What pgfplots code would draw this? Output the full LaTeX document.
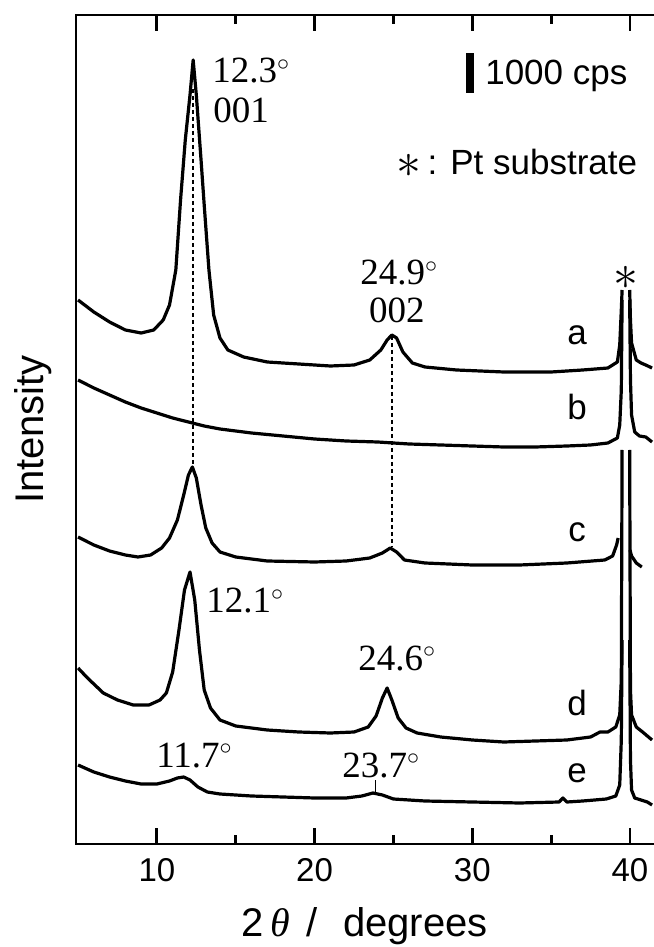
\documentclass[border=0pt]{standalone}
\usepackage{fontspec}
\setmainfont{Liberation Sans}
\newfontfamily\serif{Liberation Serif}
\usepackage{pgfplots}
\pgfplotsset{compat=1.18}
\pgfplotsset{curve/.style={black, solid, mark=none, line width=1.6pt, line join=round}}
\begin{document}
\begin{tikzpicture}
\path[use as bounding box] (-38pt,-51.5pt) rectangle (288.5pt,422pt);
\begin{axis}[
  at={(0pt,0pt)}, anchor=south west,
  scale only axis, width=290.39pt, height=414.5pt,
  xmin=4.87, xmax=41.7, ymin=0, ymax=829,
  axis line style={line width=1.4pt, black},
  xtick={10,20,30,40}, minor xtick={15,25,35},
  ytick=\empty,
  tick align=inside, major tick length=8pt, minor tick length=4.5pt,
  tick style={line width=1.4pt, black},
  /pgf/number format/assume math mode=true,
  xticklabel style={font=\fontsize{16.5}{18}\selectfont, inner sep=0pt, yshift=-7pt},
  xlabel={2\,{\serif\itshape θ}\hspace{8pt}/\hspace{13pt}degrees},
  xlabel style={at={(axis description cs:0.497,-0.111)}, anchor=base, font=\fontsize{20}{24}\selectfont},
  ylabel={Intensity},
  ylabel style={at={(axis description cs:-0.0568,0.5)}, anchor=base, font=\fontsize{20}{24}\selectfont},
  unbounded coords=jump, clip=false,
]
% curve a
\addplot[curve] coordinates {
(5.0,544)(6,532)(7,522)(8,514)(9,511)(9.8,514)(10.4,524)(10.8,539)(11.2,574)(11.5,644)(11.8,704)(12.1,749)(12.3,784)(12.5,749)(12.8,684)(13.0,639)(13.3,574)(13.6,529)(14.0,506)(14.5,494)(15.5,487)(17,482)(19,480)(21,478)(22.5,479)(23.5,484)(24.2,494)(24.6,504)(24.9,509)(25.2,506)(25.6,492)(26.2,481)(27,477)(29,474)(32,472)(35,472)(37,474)(38.6,476)(39.2,482)(39.35,499)(39.45,534)(39.5,554)
(39.75,nan)
(39.98,554)(40.03,524)(40.1,501)(40.4,484)(40.7,481)(41.0,479)(41.4,476)};
% curve b
\addplot[curve] coordinates {
(5.0,464)(6,456)(7,449)(8,442)(9,436)(10,431)(11,426)(12,422)(13,418)(14,415)(16,411)(18,408)(20,405)(22,403)(24,402)(26,400)(28,399)(30,398)(32,397)(34,397)(36,398)(37.5,399)(38.6,401)(39.2,406)(39.35,419)(39.45,454)(39.5,544)
(39.75,nan)
(39.98,544)(40.03,464)(40.1,429)(40.3,412)(40.6,408)(41.0,407)(41.4,402)};
% curve c
\addplot[curve] coordinates {
(5.0,307)(6,299)(7,293)(8,289)(8.8,287)(9.6,289)(10.3,296)(10.8,306)(11.3,324)(11.7,349)(12.0,369)(12.25,377)(12.5,366)(12.8,339)(13.1,316)(13.5,301)(14.0,292)(15,287)(17,283)(20,282)(22,283)(23.5,286)(24.3,291)(24.8,296)(25.2,292)(25.7,284)(27,281)(30,279)(33,279)(36,281)(38.4,284)(38.9,288)(39.15,299)(39.25,306)
(39.6,nan)
(40.0,294)(40.1,288)(40.4,281)(40.75,277)};
% curve d
\addplot[curve] coordinates {
(5.0,176)(5.6,166)(6.6,151)(7.5,144)(8.5,139)(9.5,139)(10.2,144)(10.6,151)(11.0,172)(11.4,214)(11.75,254)(12.1,272)(12.4,244)(12.7,194)(13.0,154)(13.4,136)(14.0,124)(15,118)(17,114)(19,112)(21,111)(22.5,112)(23.4,117)(23.9,128)(24.3,146)(24.6,156)(24.9,144)(25.3,126)(25.8,116)(26.5,111)(28,107)(30,104)(32,102)(34,103)(36,104)(37.5,107)(38.1,112)(38.6,112)(39.1,117)(39.35,129)(39.45,164)(39.5,394)
(39.75,nan)
(39.98,394)(40.03,154)(40.1,129)(40.4,117)(40.8,112)(41.1,108)(41.4,104)};
% curve e
\addplot[curve] coordinates {
(5.0,79)(6,72)(7,67)(8,63)(9,60)(10,60)(10.8,63)(11.3,66)(11.7,67)(12.1,64)(12.6,57)(13.2,52)(14,50)(16,48)(18,47)(20,46)(22,46)(23,48)(23.7,51)(24.3,49)(25,45)(27,43)(30,42)(33,41)(35.5,42)(35.75,46)(36.0,42)(37,43)(38.5,45)(39.1,48)(39.35,59)(39.45,104)(39.5,204)
(39.75,nan)
(39.98,204)(40.03,84)(40.1,54)(40.3,46)(40.7,44)(41.1,42)(41.4,39)};
% guide lines
\addplot[black, line width=0.9pt, dash pattern=on 2pt off 1.5pt] coordinates {(12.3,755)(12.3,378)};
\addplot[black, line width=0.9pt, dash pattern=on 2pt off 1.5pt] coordinates {(24.9,508)(24.9,297)};
\addplot[black, line width=0.8pt] coordinates {(23.85,64)(23.85,51)};
% scale bar
\addplot[black, line width=4pt, line cap=butt] coordinates {(29.85,751)(29.85,791)};
% annotations
\node[anchor=base west, font=\fontsize{17.5}{20}\selectfont, inner sep=0pt] at (axis cs:30.8,759) {1000 cps};
\node[anchor=base west, font=\fontsize{17.5}{20}\selectfont, inner sep=0pt] at (axis cs:25.2,669) {\raisebox{-1.5pt}{\fontsize{30}{30}\selectfont$\ast$}\,: Pt substrate};
\node[font=\fontsize{24}{28}\selectfont, inner sep=0pt] at (axis cs:39.75,566) {$\ast$};
\begin{scope}[every node/.style={anchor=base west, inner sep=0pt, font=\serif\fontsize{18.5}{22}\selectfont}]
\node at (axis cs:13.49,761) {12.3$^{\circ}$};
\node at (axis cs:13.55,721) {001};
\node at (axis cs:22.87,559) {24.9$^{\circ}$};
\node at (axis cs:23.44,521) {002};
\node at (axis cs:13.11,231) {12.1$^{\circ}$};
\node at (axis cs:22.75,174) {24.6$^{\circ}$};
\node at (axis cs:9.94,77) {11.7$^{\circ}$};
\node at (axis cs:21.73,67) {23.7$^{\circ}$};
\end{scope}
\begin{scope}[every node/.style={anchor=base west, inner sep=0pt, font=\fontsize{17.5}{20}\selectfont}]
\node at (axis cs:36.0,499) {a};
\node at (axis cs:36.0,424) {b};
\node at (axis cs:36.06,302) {c};
\node at (axis cs:36.0,129) {d};
\node at (axis cs:36.0,62) {e};
\end{scope}
\end{axis}
\end{tikzpicture}
\end{document}
